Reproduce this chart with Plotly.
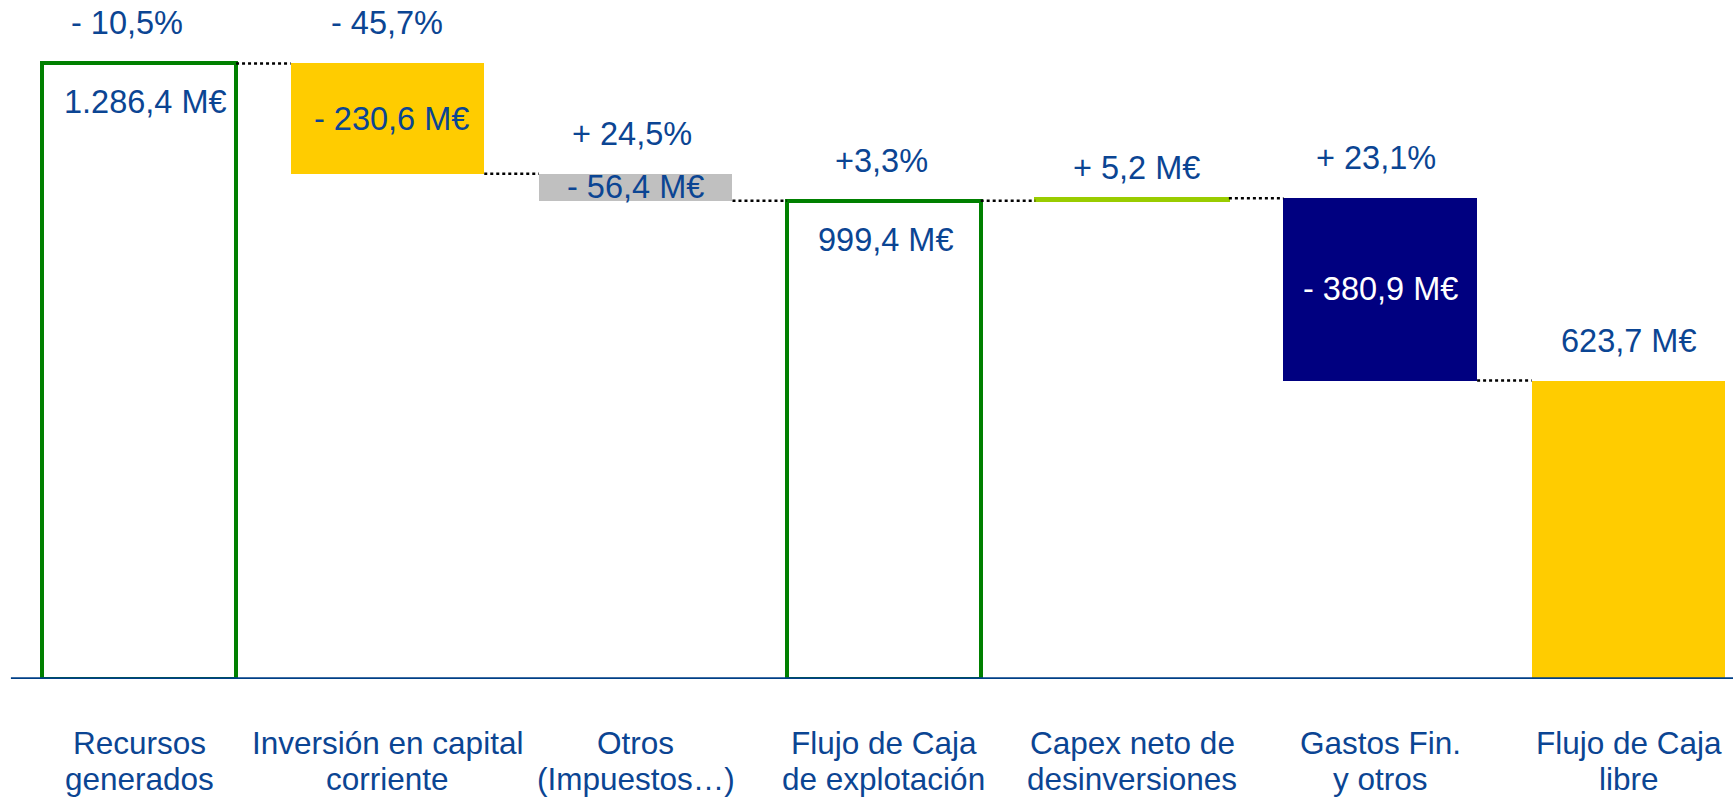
import plotly.graph_objects as go

# ---- data -------------------------------------------------------------
categories = [
    "Recursos<br>generados",
    "Inversión en capital<br>corriente",
    "Otros<br>(Impuestos…)",
    "Flujo de Caja<br>de explotación",
    "Capex neto de<br>desinversiones",
    "Gastos Fin.<br>y otros",
    "Flujo de Caja<br>libre",
]
measures = ["total", "relative", "relative", "total", "relative", "relative", "total"]
amounts = [1286.4, -230.6, -56.4, None, 5.2, -380.9, None]   # M€
changes = ["- 10,5%", "- 45,7%", "+ 24,5%", "+3,3%", "", "+ 23,1%", ""]

# ---- styling ----------------------------------------------------------
FONT = "Liberation Sans, Arial, sans-serif"
TXT = "#0B4593"
fill_colors = ["white", "#FFCC00", "#C0C0C0", "white", "#99CC00", "#000080", "#FFCC00"]
line_colors = ["#008000", "#FFCC00", "#C0C0C0", "#008000", "#99CC00", "#000080", "#FFCC00"]
line_widths = [4, 0, 0, 4, 2, 0, 0]
value_pos = ["inside_top", "center", "center", "inside_top", "above", "center", "above"]
value_colors = [TXT, TXT, TXT, TXT, TXT, "white", TXT]
value_xshift = [6, 4, 0, 2, 4, 0, 0]
change_xshift = [-12, 0, -4, -2, 0, -4, 0]
BAR_W = 0.78
VAL_SIZE = 32.5
CAT_SIZE = 31.5

# ---- waterfall geometry from the values -------------------------------
bases, heights, tops, totals_after = [], [], [], []
level = 0.0
for m, a in zip(measures, amounts):
    if m == "total":
        if a is not None:
            level = a
        bases.append(0.0)
        heights.append(level)
    else:
        start, end = level, level + a
        bases.append(min(start, end))
        heights.append(abs(a))
        level = end
    tops.append(bases[-1] + heights[-1])
    totals_after.append(level)


def fmt_es(v):
    s = f"{abs(v):,.1f}"
    return s.replace(",", "X").replace(".", ",").replace("X", ".")


def value_text(m, i):
    if m == "total":
        return f"{fmt_es(heights[i])} M€"
    a = amounts[i]
    sign = "+" if a > 0 else "-"
    return f"{sign} {fmt_es(a)} M€"


x = list(range(len(categories)))

fig = go.Figure()
fig.add_trace(go.Bar(
    x=x, y=heights, base=bases, width=BAR_W,
    marker=dict(color=fill_colors, line=dict(color=line_colors, width=line_widths)),
    hoverinfo="skip", showlegend=False,
))

# dotted connectors between consecutive bars
for i in range(len(x) - 1):
    lvl = totals_after[i]
    fig.add_trace(go.Scatter(
        x=[i + BAR_W / 2, i + 1 - BAR_W / 2], y=[lvl, lvl], mode="lines",
        line=dict(color="black", width=2.5, dash="dot"),
        hoverinfo="skip", showlegend=False,
    ))

annotations = []
for i, m in enumerate(measures):
    top, base = tops[i], bases[i]
    # value label
    txt = value_text(m, i)
    pos = value_pos[i]
    if pos == "inside_top":
        y, shift = top, -39
    elif pos == "center":
        y, shift = (top + base) / 2, 0
    else:
        y, shift = top, (30 if i == 4 else 40)
    annotations.append(dict(
        x=i, y=y, yshift=shift, xshift=value_xshift[i], text=txt, showarrow=False,
        xref="x", yref="y", yanchor="middle",
        font=dict(family=FONT, size=VAL_SIZE, color=value_colors[i]),
    ))
    # change label above the bar
    if changes[i]:
        annotations.append(dict(
            x=i, y=top, yshift=40, xshift=change_xshift[i], text=changes[i], showarrow=False,
            xref="x", yref="y", yanchor="middle",
            font=dict(family=FONT, size=VAL_SIZE, color=TXT),
        ))
    # two-line category label under the axis
    for k, line in enumerate(categories[i].split("<br>")):
        annotations.append(dict(
            x=i, y=0, yshift=-64 - 36 * k, text=line, showarrow=False, xref="x", yref="y",
            yanchor="middle", font=dict(family=FONT, size=CAT_SIZE, color=TXT),
        ))

fig.update_layout(
    width=1733, height=797,
    margin=dict(l=0, r=0, t=0, b=118),
    paper_bgcolor="white", plot_bgcolor="white",
    bargap=0,
    annotations=annotations,
    shapes=[dict(type="line", xref="paper", yref="y", x0=0.0063, x1=1, y0=0, y1=0,
                 line=dict(color="#003F87", width=3.5), layer="above")],
    xaxis=dict(range=[-0.561, 6.421], showticklabels=False, showgrid=False,
               zeroline=False, showline=False, fixedrange=True),
    yaxis=dict(range=[0, 679 / 0.4785], showticklabels=False, showgrid=False,
               zeroline=False, showline=False, fixedrange=True),
)

fig.write_html("out.html")
